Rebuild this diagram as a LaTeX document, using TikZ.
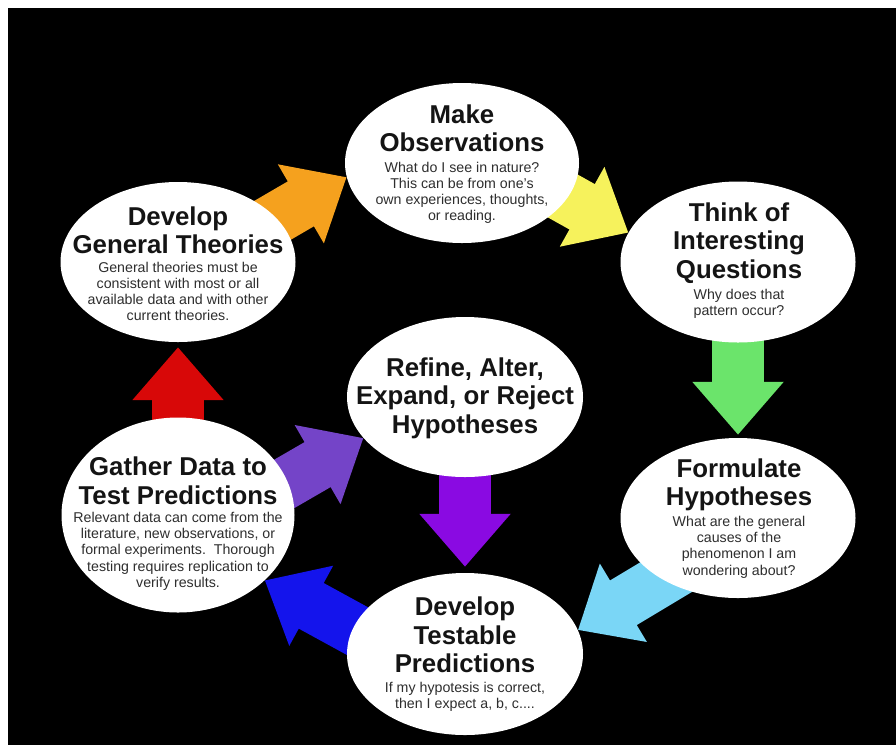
\documentclass[tikz,border=0pt]{standalone}
\usepackage{fontspec}
\setmainfont{Liberation Sans}
\usetikzlibrary{shapes.geometric,arrows.meta,calc}
\pgfdeclarelayer{bg}
\pgfsetlayers{bg,main}
\definecolor{cOrange}{HTML}{F5A11E}
\definecolor{cYellow}{HTML}{F6F25C}
\definecolor{cGreen}{HTML}{6BE46B}
\definecolor{cLBlue}{HTML}{7AD6F6}
\definecolor{cViolet}{HTML}{8A0AE2}
\definecolor{cBlue}{HTML}{1414EC}
\definecolor{cRed}{HTML}{D80808}
\definecolor{cMPurple}{HTML}{7444C8}
\definecolor{cHead}{HTML}{141414}
\definecolor{cDesc}{HTML}{2E2E2E}
\tikzset{
  barrow/.style={draw=#1, line width=52pt, -{Triangle[length=53pt,width=88pt]}},
  ell/.style={ellipse, fill=white, draw=none, inner sep=0pt},
  headtxt/.style={align=center, inner sep=0pt, text=cHead, font=\fontsize{25.8}{28.3}\selectfont\bfseries},
  desctxt/.style={align=center, inner sep=0pt, text=cDesc, font=\fontsize{14.2}{16.1}\selectfont},
}
\begin{document}
\begin{tikzpicture}[x=1pt,y=-1pt]
\useasboundingbox (0,0) rectangle (896,745);

% white ellipses
\node[ell, minimum width=234pt, minimum height=160pt] (obs) at (462,163) {};
\node[ell, minimum width=235pt, minimum height=161pt] (think) at (738,262) {};
\node[ell, minimum width=235pt, minimum height=160pt] (theo) at (178,262) {};
\node[ell, minimum width=233pt, minimum height=195pt] (gather) at (178,515) {};
\node[ell, minimum width=236pt, minimum height=160pt] (refine) at (465,397) {};
\node[ell, minimum width=236pt, minimum height=162pt] (test) at (465,654) {};
\node[ell, minimum width=235pt, minimum height=160pt] (form) at (738,518) {};

% texts
\node[headtxt] (obs-h) at (462,128.5) {Make\\Observations};
\node[desctxt] (obs-d) at (462,192.5) {What do I see in nature?\\This can be from one's\\own experiences, thoughts,\\or reading.};
\node[headtxt] (theo-h) at (178,230) {Develop\\General Theories};
\node[desctxt] (theo-d) at (178,291.7) {General theories must be\\consistent with most or all\\available data and with other\\current theories.};
\node[headtxt] (think-h) at (739,243) {Think of\\Interesting\\Questions};
\node[desctxt] (think-d) at (739,304) {Why does that\\pattern occur?};
\node[headtxt] (form-h) at (739,484.5) {Formulate\\Hypotheses};
\node[desctxt] (form-d) at (739,547.2) {What are the general\\causes of the\\phenomenon I am\\wondering about?};
\node[headtxt] (gather-h) at (178,480.8) {Gather Data to\\Test Predictions};
\node[desctxt] (gather-d) at (178,551.3) {Relevant data can come from the\\literature, new observations, or\\formal experiments.\ \ Thorough\\testing requires replication to\\verify results.};
\node[headtxt] (refine-h) at (465,398.3) {Refine, Alter,\\Expand, or Reject\\Hypotheses};
\node[headtxt] (test-h) at (465,635) {Develop\\Testable\\Predictions};
\node[desctxt] (test-d) at (465,696.7) {If my hypotesis is correct,\\then I expect a, b, c....};

% tails of the slanted arrows, hidden inside the source ellipses
\coordinate (tOrange) at ($(theo)+(46.5,-13.7)$);
\coordinate (tYellow) at ($(obs)+(43,0.7)$);
\coordinate (tLBlue) at ($(form)+(-39.2,39.5)$);
\coordinate (tBlue) at ($(test)+(-63,1.5)$);
\coordinate (tMPurple) at ($(gather)+(52.2,0.2)$);

\begin{pgfonlayer}{bg}
\fill[white] (0,0) rectangle (896,745);
\fill[black] (8,8) rectangle (896,745);
\draw[barrow=cOrange] (tOrange) -- (obs.187);
\draw[barrow=cYellow] (tYellow) -- (think.165);
\draw[barrow=cGreen, shorten >=3pt] (think.center) -- (form.north);
\draw[barrow=cLBlue] (tLBlue) -- (test.12);
\draw[barrow=cViolet, shorten >=6pt] (refine.center) -- (test.north);
\draw[barrow=cBlue] (tBlue) -- (gather.323);
\draw[barrow=cRed, shorten >=5pt] (gather.center) -- (theo.south);
\draw[barrow=cMPurple] (tMPurple) -- (refine.202);
\end{pgfonlayer}
\end{tikzpicture}
\end{document}
